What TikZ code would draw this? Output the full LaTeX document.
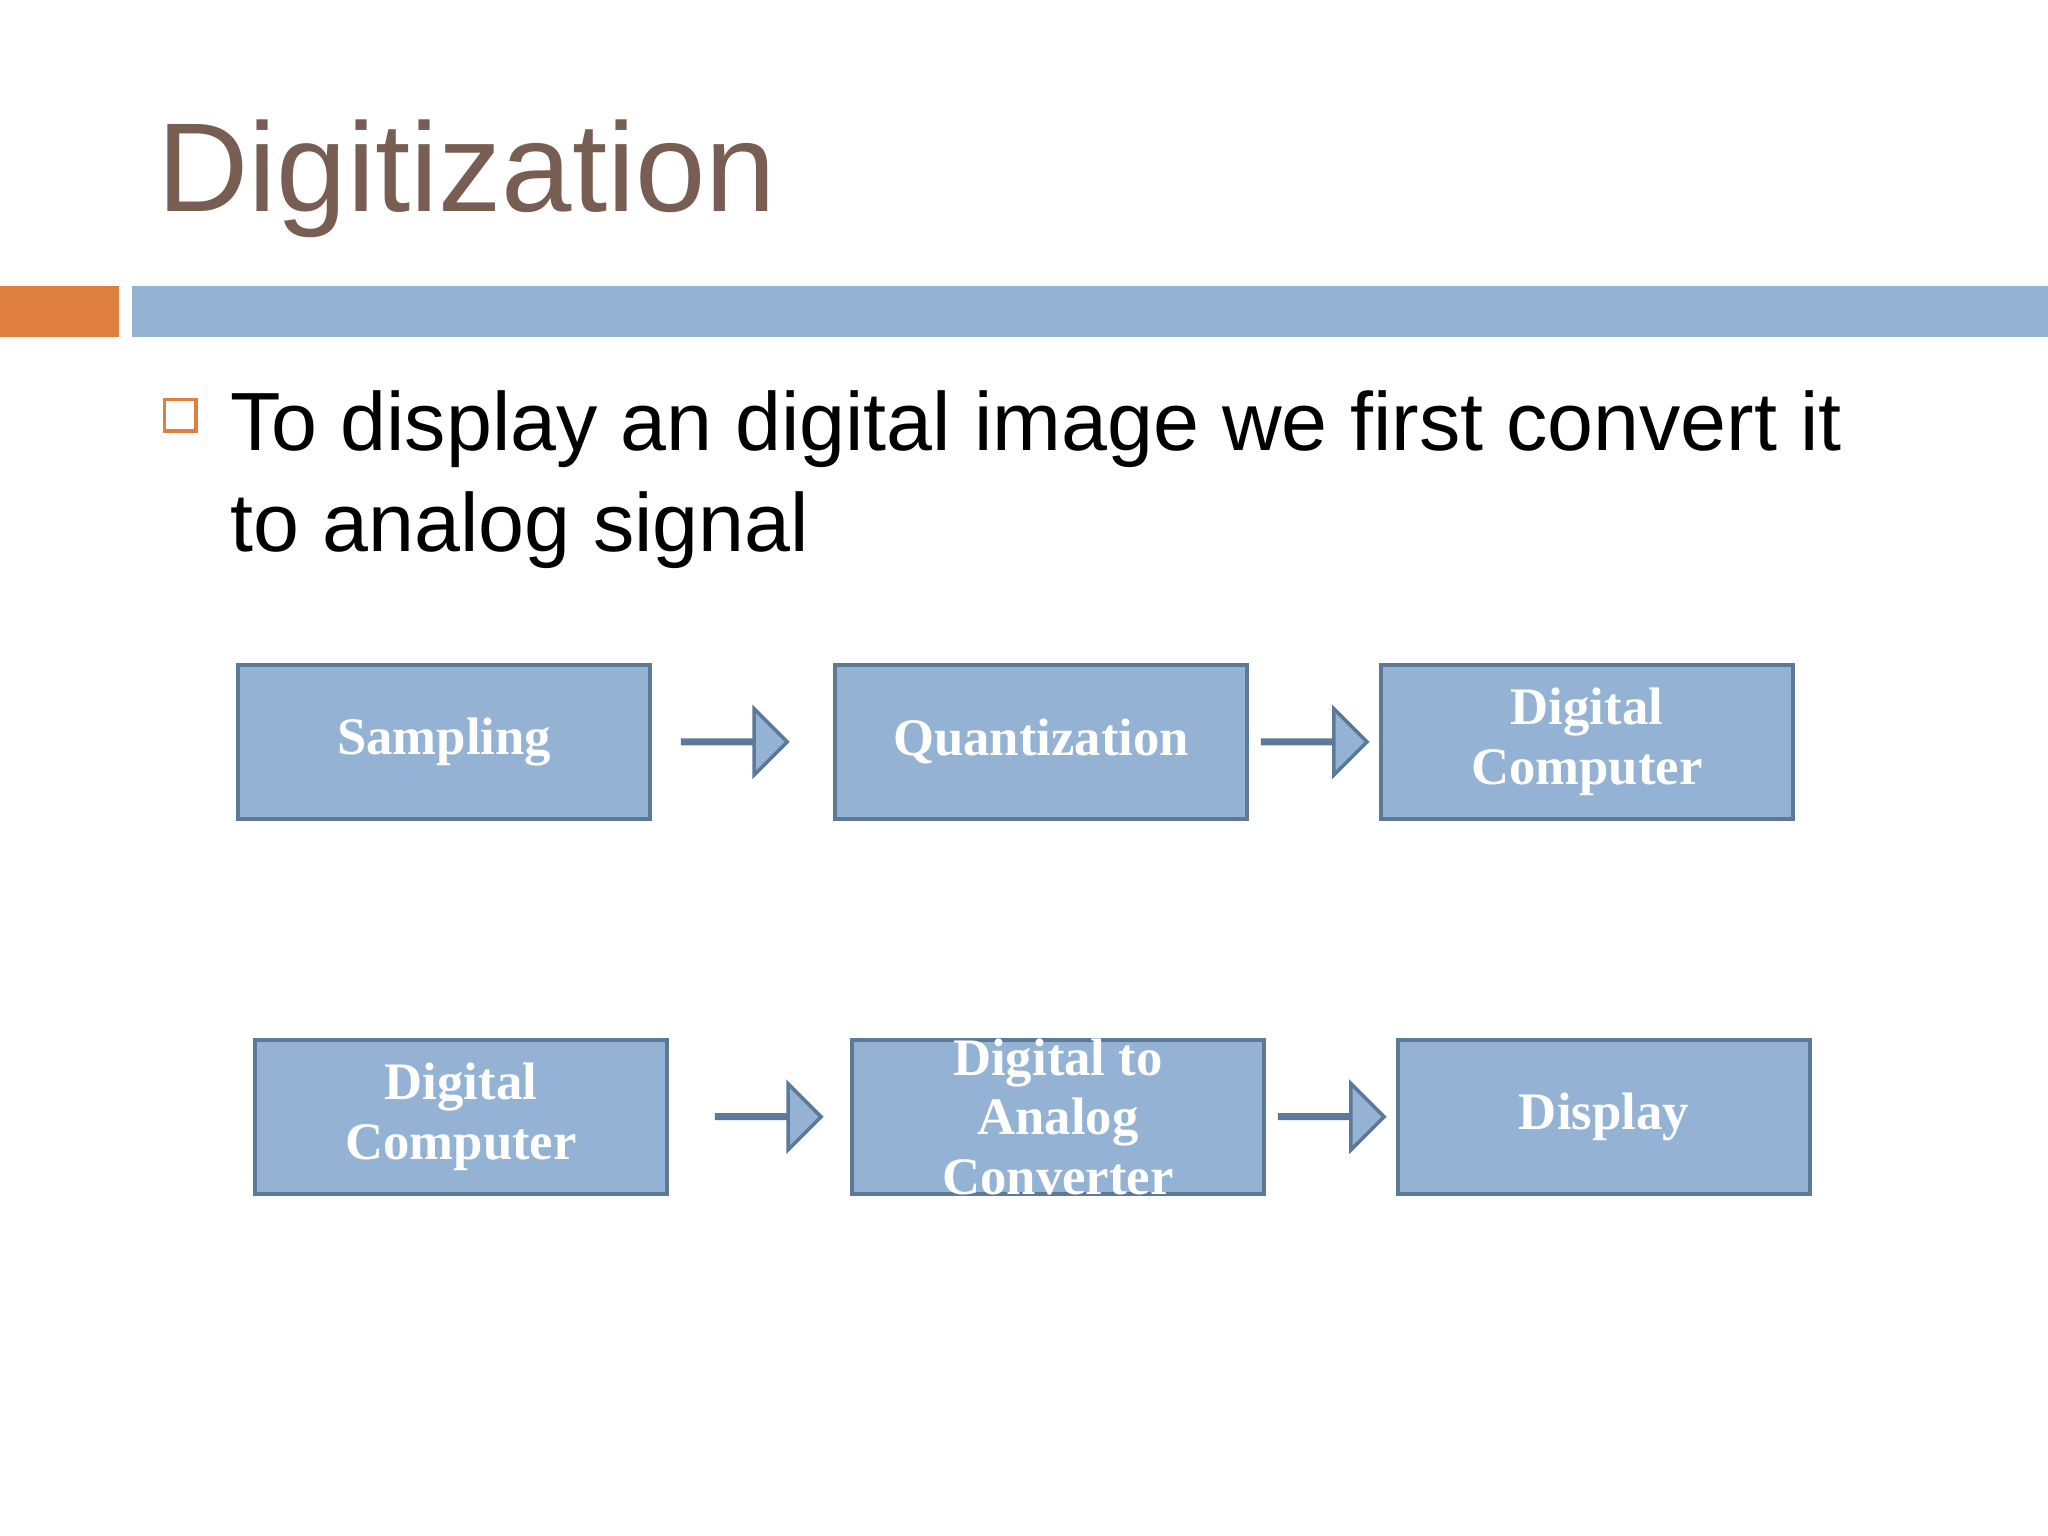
\documentclass[tikz,border=0pt]{standalone}
\usepackage{fontspec}
\setmainfont{Liberation Sans}
\newfontfamily\boxfont{Liberation Serif}
\usetikzlibrary{shapes.arrows}
\definecolor{titlec}{RGB}{120,94,82}
\definecolor{boxc}{RGB}{148,179,212}
\definecolor{edgec}{RGB}{92,122,152}
\definecolor{orangec}{RGB}{224,128,64}
\tikzset{
 blk/.style={draw=edgec,line width=1.2pt,fill=boxc,minimum width=315*0.01306cm,minimum height=118*0.01306cm},
 lbl/.style={text=white,font=\boxfont\bfseries\fontsize{15}{17}\selectfont,align=center,inner sep=0},
 arr/.style={single arrow,draw=edgec,line width=1pt,fill=boxc,minimum width=46*0.01306cm,single arrow head extend=24*0.01306cm,minimum height=80*0.01306cm,inner sep=0pt}
}
\begin{document}
\begin{tikzpicture}[x=0.01306cm,y=-0.01306cm]
\useasboundingbox (0,0) rectangle (1568,1176);
\fill[white] (0,0) rectangle (1568,1176);
\node[anchor=base west,inner sep=0,text=titlec,font=\fontsize{36}{40}\selectfont] (title) at (120,162) {Digitization};
\fill[orangec] (0,219) rectangle (91,258);
\fill[boxc] (101,219) rectangle (1568,258);
\node[draw=orangec,line width=1pt,minimum size=24*0.01306cm,inner sep=0] (bul) at (138,318) {};
\node[anchor=base west,inner sep=0,font=\fontsize{23.5}{28}\selectfont] (txt1) at (176,345) {To display an digital image we first convert it};
\node[anchor=base west,inner sep=0,font=\fontsize{23.5}{28}\selectfont] (txt2) at (176,422) {to analog signal};
\node[blk] (s) at (340,568) {};
\node[blk] (q) at (797,568) {};
\node[blk] (d1) at (1215,568) {};
\node[blk] (d2) at (353,855) {};
\node[blk] (dac) at (810,855) {};
\node[blk] (disp) at (1228,855) {};
\node[lbl] at (s) {Sampling};
\node[lbl] at (q) {Quantization};
\node[lbl] at (d1) {Digital\\Computer};
\node[lbl] at (d2) {Digital\\Computer};
\node[lbl] at (dac.center) {Digital to\\Analog\\Converter};
\node[lbl] at (disp) {Display};
\node[arr] (a1) at (562,568) {};
\node[arr] (a2) at (1006,568) {};
\node[arr] (a3) at (588,855) {};
\node[arr] (a4) at (1019,855) {};
\end{tikzpicture}
\end{document}
